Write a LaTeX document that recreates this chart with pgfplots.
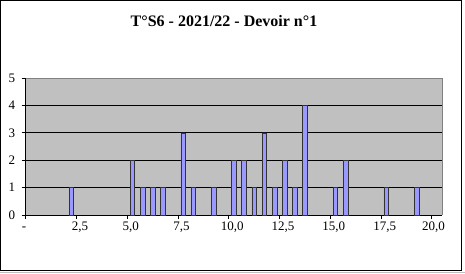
\documentclass[border=0pt]{standalone}
\usepackage{pgfplots}
\pgfplotsset{compat=1.18}
\usepackage{fontspec}
\setmainfont{Liberation Serif}
\definecolor{barblue}{HTML}{9999FF}
\definecolor{plotgray}{HTML}{C0C0C0}
\definecolor{bordergray}{HTML}{808080}
\begin{document}
\begin{tikzpicture}[x=1pt,y=1pt]
\useasboundingbox (0,0) rectangle (465,273);
\draw[line width=1pt] (0.5,2.5) rectangle (461.5,272.5);
\draw[line width=1pt, color=black!25] (0,0.5) -- (465,0.5);
\node[font=\fontsize{16}{18}\selectfont\bfseries] at (224,252) {T°S6 - 2021/22 - Devoir n°1};
\begin{axis}[
  at={(25.7pt,58pt)}, anchor=south west,
  scale only axis, width=416.3pt, height=137pt,
  xmin=-0.5, xmax=40.5, ymin=0, ymax=5,
  axis lines=left, axis line style={-, black, line width=0.8pt},
  axis background/.style={fill=plotgray},
  ybar, bar width=4.6pt,
  ytick={0,1,2,3,4,5}, yticklabels={0,1,2,3,4,5},
  ymajorgrids, grid style={black, line width=0.8pt},
  xtick={-0.5,4.5,9.5,14.5,19.5,24.5,29.5,34.5,39.5},
  xticklabels={},
  extra x ticks={-0.45,4.85,9.85,14.85,19.85,24.85,29.85,34.85,39.65},
  extra x tick labels={\vphantom{0}\llap{-},{2,5},{5,0},{7,5},{10,0},{12,5},{15,0},{17,5},{20,0}},
  extra x tick style={major tick length=0pt, grid=none},
  tick align=outside, major tick length=4pt,
  tick style={black, line width=0.8pt},
  ticklabel style={font=\fontsize{13}{15}\selectfont},
  xticklabel style={yshift=-3pt},
  yticklabel style={xshift=-3pt},
  clip=false,
]
\addplot[fill=barblue, draw=black!80, line width=0.5pt] coordinates {
(4,1) (10,2) (11,1) (12,1) (13,1) (15,3) (16,1) (18,1)
(20,2) (21,2) (22,1) (23,3) (24,1) (25,2) (26,1) (27,4)
(30,1) (31,2) (35,1) (38,1)
};
\draw[bordergray, line width=0.8pt] (rel axis cs:0,1) -- (rel axis cs:1,1) -- (rel axis cs:1,0);
\end{axis}
\end{tikzpicture}
\end{document}
